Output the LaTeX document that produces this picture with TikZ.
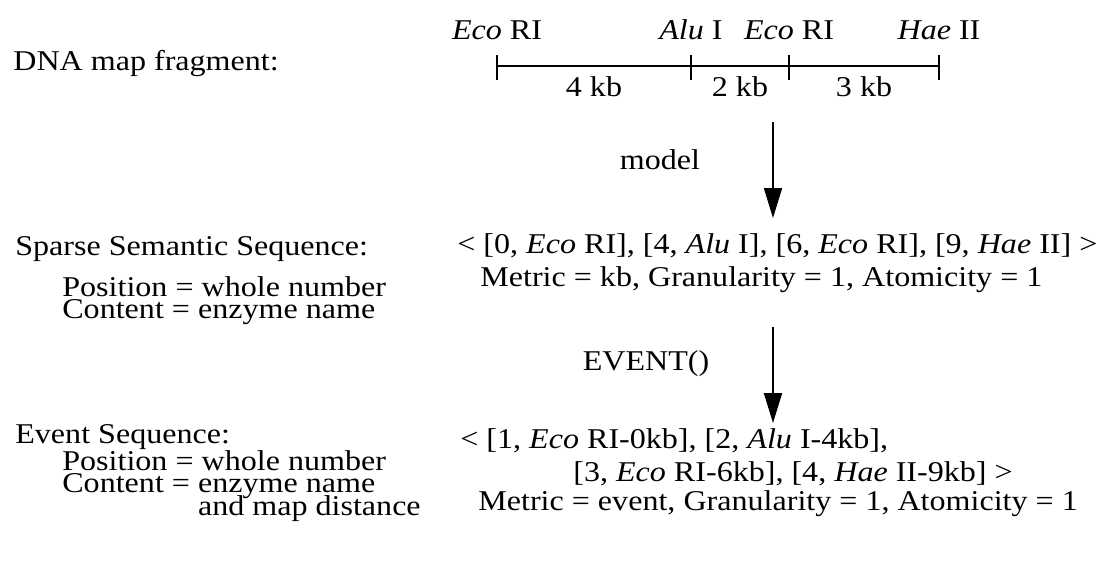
\documentclass[tikz,border=0pt]{standalone}
\usepackage{fontspec}
\setmainfont[FakeStretch=1.12]{Liberation Serif}
\usetikzlibrary{arrows.meta, positioning}

\newcommand{\textrows}[1]{\vtop{\baselineskip=13pt\lineskiplimit=-\maxdimen\lineskip=0pt #1}}

\tikzset{
  txt/.style={anchor=base west, inner sep=0pt, font=\fontsize{16.3}{13}\selectfont},
  ctxt/.style={anchor=base, inner sep=0pt, font=\fontsize{16.3}{13}\selectfont},
  mapline/.style={line width=1.1pt},
  flow/.style={line width=1.1pt, -{Triangle[width=0.36cm, length=0.6cm]}}
}

\begin{document}
\begin{tikzpicture}[x=0.02cm, y=-0.02cm]
    \useasboundingbox (0,0) rectangle (1109,581);
    % map fragment
    \node[txt] (maplbl) at (13,71) {DNA map fragment:};
    \foreach \n/\x in {ecoA/497, aluB/691, ecoC/789, haeD/939}
      \coordinate (\n) at (\x,66);
    \draw[mapline] (ecoA) -- (haeD);
    \foreach \n in {ecoA, aluB, ecoC, haeD}
      \draw[mapline] (\n) ++(0,-11) -- ++(0,25);
    \node[ctxt] (siteA) at (497,40) {\textit{Eco} RI};
    \node[ctxt] (siteB) at (691,40) {\textit{Alu} I};
    \node[ctxt] (siteC) at (789,40) {\textit{Eco} RI};
    \node[ctxt] (siteD) at (939,40) {\textit{Hae} II};
    \node[ctxt] (distAB) at (594,97) {4 kb};
    \node[ctxt] (distBC) at (740,97) {2 kb};
    \node[ctxt] (distCD) at (864,97) {3 kb};
    % model step
    \coordinate (modtop) at (773,122);
    \coordinate (modtip) at (773,218);
    \draw[flow] (modtop) -- (modtip);
    \node[ctxt] (modlbl) at (660,170) {model};
    % sparse semantic sequence
    \node[txt] (ssslbl) at (15,255) {Sparse Semantic Sequence:};
    \node[txt] (sssdef) at (62,296) {\textrows{%
      \hbox{Position = whole number}
      \hbox{Content = enzyme name}}};
    \node[txt] (sssseq) at (457,253)
      {< [0, \textit{Eco} RI], [4, \textit{Alu} I], [6, \textit{Eco} RI], [9, \textit{Hae} II] >};
    \node[txt] (sssmet) at (480,286) {Metric = kb, Granularity = 1, Atomicity = 1};
    % event step
    \coordinate (evtop) at (773,327);
    \coordinate (evtip) at (773,423);
    \draw[flow] (evtop) -- (evtip);
    \node[ctxt] (evlbl) at (646,370) {EVENT()};
    % event sequence
    \node[txt] (esqlbl) at (15,443) {Event Sequence:};
    \node[txt] (esqdef) at (62,470) {\textrows{%
      \hbox{Position = whole number}
      \hbox{Content = enzyme name}
      \hbox{\hphantom{Content = }and map distance}}};
    \node[txt] (esqseqA) at (460,448)
      {< [1, \textit{Eco} RI-0kb], [2, \textit{Alu} I-4kb],};
    \node[txt] (esqseqB) at (573,481)
      {[3, \textit{Eco} RI-6kb], [4, \textit{Hae} II-9kb] >};
    \node[txt] (esqmet) at (478,510) {Metric = event, Granularity = 1, Atomicity = 1};
\end{tikzpicture}
\end{document}
